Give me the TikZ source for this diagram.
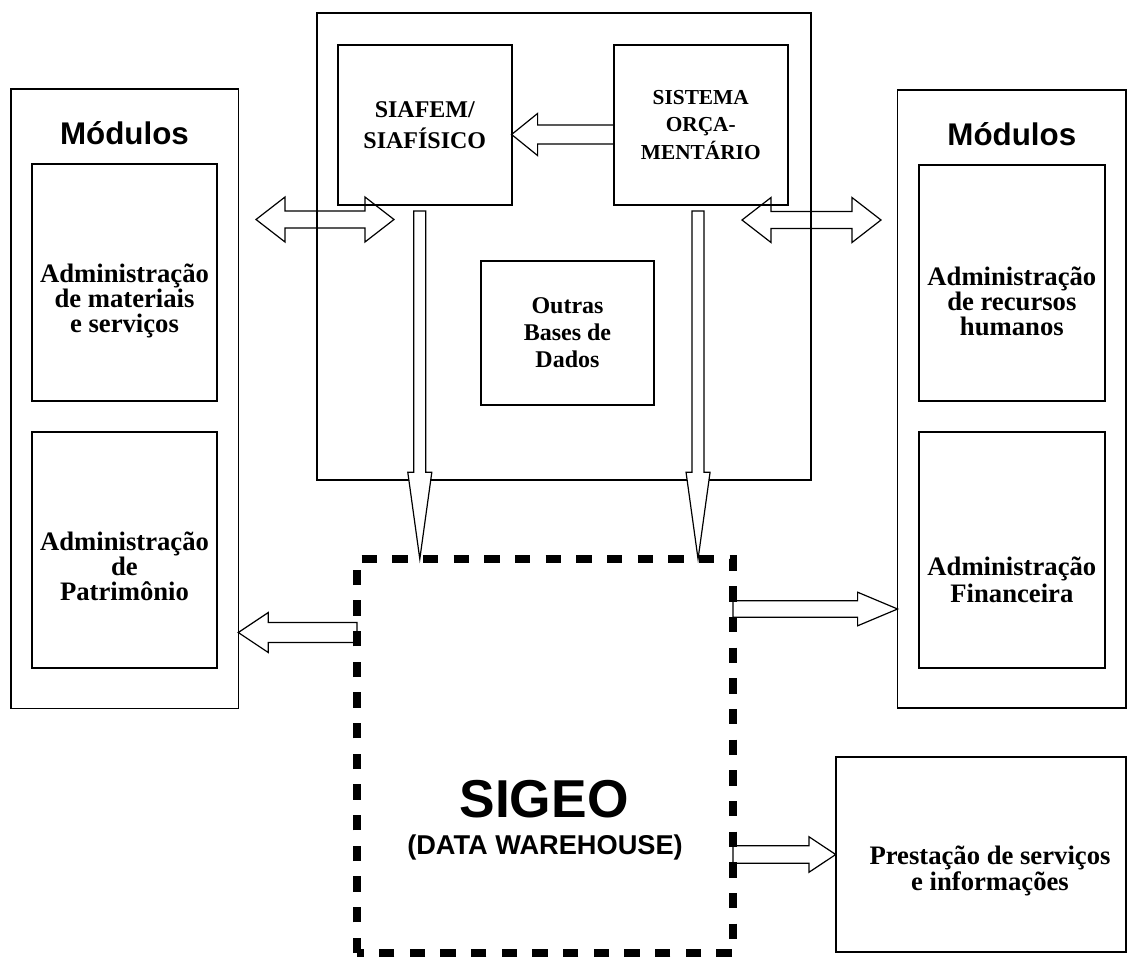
\documentclass[tikz,border=0pt]{standalone}
\usepackage{fontspec}
\setmainfont{Liberation Serif}
\setsansfont{Liberation Sans}
\usetikzlibrary{calc}

\def\u{0.75pt}
\def\tightls{\lineskiplimit -20pt\relax}
\tikzset{
  box/.style={draw, line width=1.5pt, rectangle, inner sep=0pt, outer sep=0pt},
  sz/.style 2 args={minimum width=#1*\u, minimum height=#2*\u},
  dwbox/.style={draw, line width=6pt, dash pattern=on 11.5pt off 11.5pt, inner sep=0pt, outer sep=0pt},
  modtxt/.style={align=center, font=\bfseries\fontsize{20}{18.8}\selectfont\tightls},
  head/.style={font=\sffamily\bfseries\fontsize{23.5}{23.5}\selectfont},
  blockar/.style={draw, line width=0.9pt, line join=miter},
}

% block arrow: [opts] tail, tip, half shaft, half head, head length
\newcommand{\blockarrow}[6][]{%
  \coordinate (ba) at ($(#3)!#6!(#2)$);
  \draw[blockar,#1] ($(#2)!#4!90:(#3)$) -- ($(ba)!#4!90:(#3)$) -- ($(ba)!#5!90:(#3)$) -- (#3)
    -- ($(ba)!#5!-90:(#3)$) -- ($(ba)!#4!-90:(#3)$) -- ($(#2)!#4!-90:(#3)$) -- cycle;
}
% two headed block arrow: end a, end b, half shaft, half head, head length
\newcommand{\twoarrow}[5]{%
  \coordinate (ba1) at ($(#1)!#5!(#2)$);
  \coordinate (ba2) at ($(#2)!#5!(#1)$);
  \draw[blockar] (#1) -- ($(ba1)!#4!90:(#2)$) -- ($(ba1)!#3!90:(#2)$) -- ($(ba2)!#3!90:(#2)$)
    -- ($(ba2)!#4!90:(#2)$) -- (#2) -- ($(ba2)!#4!-90:(#2)$) -- ($(ba2)!#3!-90:(#2)$)
    -- ($(ba1)!#3!-90:(#2)$) -- ($(ba1)!#4!-90:(#2)$) -- cycle;
}

\begin{document}
\begin{tikzpicture}[x=0.75pt,y=-0.75pt]
\useasboundingbox (0,0) rectangle (1128,957);

% source systems
\node[box, line width=1.2pt, sz={494}{467}] (src) at (564,246.5) {};
\node[box, sz={173.6}{160}, align=center, font=\bfseries\fontsize{18}{22.8}\selectfont] (siaf) at (424.8,125) {SIAFEM/\\SIAFÍSICO};
\node[box, sz={173.5}{160}, align=center, font=\bfseries\fontsize{16}{20.4}\selectfont] (sis) at (700.75,125) {SISTEMA\\ORÇA-\\MENTÁRIO};
\node[box, sz={173.6}{144.3}, align=center, font=\bfseries\fontsize{18}{20.5}\selectfont] (outras) at (567.5,332.8) {Outras\\Bases de\\Dados};

% modules, left
\node[box, line width=1.2pt, sz={227.6}{619.3}] (modl) at (124.5,398.7) {};
\node[head] (modltit) at (124.5,133.5) {Módulos};
\node[box, sz={185}{236.7}] (mat) at (124.5,282.3) {};
\node[box, sz={185}{236.3}] (pat) at (124.5,549.8) {};
\node[modtxt] (mattxt) at (124.5,301) {Administração\\de materiais\\e serviços};
\node[modtxt] (pattxt) at (124.5,566) {Administração\\de\\Patrimônio};

% modules, right
\node[box, line width=1.2pt, sz={228.4}{618}] (modr) at (1011.8,399) {};
\node[head] (modrtit) at (1011.8,134) {Módulos};
\node[box, sz={186.3}{236}] (rh) at (1011.85,282.7) {};
\node[box, sz={186.3}{236.3}] (fin) at (1011.85,549.8) {};
\node[modtxt] (rhtxt) at (1011.85,301) {Administração\\de recursos\\humanos};
\node[modtxt, font=\bfseries\fontsize{20}{20}\selectfont] (fintxt) at (1011.85,579.5) {Administração\\Financeira};

% services
\node[box, line width=1.2pt, sz={290.3}{195}] (prest) at (980.85,854.5) {};
\node[modtxt, font=\bfseries\fontsize{20}{20}\selectfont] (presttxt) at (990,871) {Prestação de serviços\\e informações};

% data warehouse
\node[sz={376}{394}, inner sep=0pt, outer sep=0pt] (dw) at (545,756) {};
\node[font=\sffamily\bfseries\fontsize{40}{40}\selectfont] (sigeo) at (544,799) {SIGEO};
\node[font=\sffamily\bfseries\fontsize{20.4}{20.4}\selectfont] (dwtxt) at (545,847) {(DATA WAREHOUSE)};

% arrows
\coordinate (sisw) at ($(sis.west)+(0,9.5)$);
\coordinate (siafe) at ($(siaf.east)+(0,9.5)$);
\blockarrow{sisw}{siafe}{7.1pt}{15.8pt}{19.5pt}

\coordinate (siafs) at ($(siaf.south)+(-5,6)$);
\coordinate (dwa) at (siafs |- dw.north);
\blockarrow[fill=white]{siafs}{dwa}{4.5pt}{9pt}{65pt}
\coordinate (siss) at ($(sis.south)+(-2.7,6)$);
\coordinate (dwb) at (siss |- dw.north);
\blockarrow[fill=white]{siss}{dwb}{4.5pt}{9pt}{65pt}

\coordinate (dl1) at (256,219.5);
\coordinate (dl2) at (394,219.5);
\twoarrow{dl1}{dl2}{6.4pt}{16.9pt}{21.8pt}
\coordinate (dr1) at (742,220);
\coordinate (dr2) at (881,220);
\twoarrow{dr1}{dr2}{6.4pt}{16.9pt}{21.8pt}

\coordinate (h1) at (0,632.5);
\coordinate (dwl) at (dw.west |- h1);
\coordinate (patin) at (modl.east |- h1);
\blockarrow{dwl}{patin}{7.5pt}{15pt}{22.5pt}

\coordinate (h2) at (0,609);
\coordinate (dwr) at (dw.east |- h2);
\coordinate (finin) at (modr.west |- h2);
\blockarrow{dwr}{finin}{6.2pt}{12.6pt}{30pt}

\coordinate (dwp) at (dw.east |- prest.west);
\blockarrow{dwp}{prest.west}{6.5pt}{13.3pt}{20pt}

\draw[dwbox] (dw.south west) rectangle (dw.north east);
\end{tikzpicture}
\end{document}
